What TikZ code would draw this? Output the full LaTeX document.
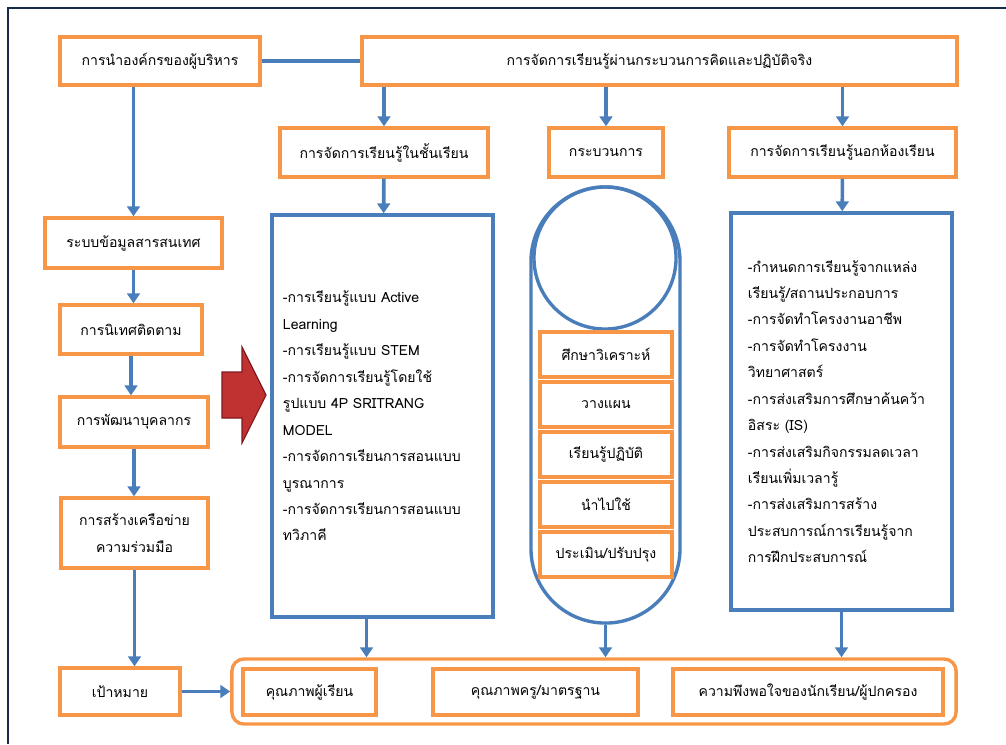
\documentclass[tikz,border=0pt]{standalone}
\usepackage{fontspec}
\setmainfont[Script=Thai]{Loma}
\usetikzlibrary{arrows.meta}
\definecolor{boxorange}{RGB}{247,150,70}
\definecolor{flowblue}{RGB}{74,126,187}
\definecolor{framenavy}{RGB}{23,43,72}
\definecolor{arrowred}{RGB}{192,50,50}
\definecolor{arrowdark}{RGB}{130,25,30}
\tikzset{
  obox/.style={draw=boxorange, line width=2.4pt, fill=white, inner sep=2pt, align=center},
  bbox/.style={draw=flowblue, line width=2.4pt, align=left},
  link/.style={draw=flowblue, line width=2.6pt},
  flow/.style={link, -{Triangle[width=9pt,length=7pt]}}
}
\begin{document}
\begin{tikzpicture}[x=0.025cm, y=-0.025cm, font=\fontsize{10}{18.8}\selectfont]
  \useasboundingbox (0,0) rectangle (1006,744);
  % frame
  \draw[framenavy, line width=2pt] (8,744) -- (8,8) -- (1006,8);
  % top row
  \node[obox, minimum width=5cm, minimum height=1.2cm] (lead) at (160,61) {การนำองค์กรของผู้บริหาร};
  \node[obox, minimum width=14.875cm, minimum height=1.2cm] (banner) at (659.5,61)
    {การจัดการเรียนรู้ผ่านกระบวนการคิดและปฏิบัติจริง};
  \node[obox, minimum width=5.2cm, minimum height=1.225cm] (classhd) at (384,152.5) {การจัดการเรียนรู้ในชั้นเรียน};
  \node[obox, minimum width=2.85cm, minimum height=1.225cm] (prochd) at (606,152.5) {กระบวนการ};
  \node[obox, minimum width=5.675cm, minimum height=1.225cm] (outhd) at (842.5,152.5) {การจัดการเรียนรู้นอกห้องเรียน};
  % left column
  \node[obox, minimum width=4.425cm, minimum height=1.25cm] (info) at (133.5,243) {ระบบข้อมูลสารสนเทศ};
  \node[obox, minimum width=3.55cm, minimum height=1.225cm] (super) at (131,329.5) {การนิเทศติดตาม};
  \node[obox, minimum width=3.7cm, minimum height=1.25cm] (staff) at (134,422) {การพัฒนาบุคลากร};
  \node[obox, minimum width=3.675cm, minimum height=1.75cm] (network) at (134.5,533)
    {การสร้างเครือข่าย\\ความร่วมมือ};
  \node[obox, minimum width=3cm, minimum height=1.175cm] (goal) at (120,691.5) {เป้าหมาย};
  % classroom box
  \node[bbox, minimum width=5.525cm, minimum height=10.05cm, text width=4.975cm, inner xsep=0.275cm]
    (classbox) at (382.5,416)
    {-การเรียนรู้แบบ Active\\Learning\\-การเรียนรู้แบบ STEM\\-การจัดการเรียนรู้โดยใช้\\
     รูปแบบ 4P SRITRANG\\MODEL\\-การจัดการเรียนการสอนแบบ\\บูรณาการ\\
     -การจัดการเรียนการสอนแบบ\\ทวิภาคี};
  % process capsule
  \node[draw=flowblue, line width=2.4pt, minimum width=3.725cm, minimum height=10.9cm,
    rounded corners=1.86cm] (cyl) at (605.5,405) {};
  \node[draw=flowblue, line width=2.4pt, circle, minimum size=3.55cm] (ring) at (605,258) {};
  \foreach \txt [count=\i] in {ศึกษาวิเคราะห์, วางแผน, เรียนรู้ปฏิบัติ, นำไปใช้, ประเมิน/ปรับปรุง}
    \node[obox, minimum width=3.3cm, minimum height=1.125cm] (st\i) at ({606},{354.5+50*(\i-1)}) {\txt};
  % outside classroom box
  \node[bbox, minimum width=5.525cm, minimum height=9.925cm, text width=4.675cm, inner xsep=0.425cm]
    (outbox) at (841.5,411.5)
    {-กำหนดการเรียนรู้จากแหล่ง\\เรียนรู้/สถานประกอบการ\\-การจัดทำโครงงานอาชีพ\\
     -การจัดทำโครงงาน\\วิทยาศาสตร์\\-การส่งเสริมการศึกษาค้นคว้า\\อิสระ (IS)\\
     -การส่งเสริมกิจกรรมลดเวลา\\เรียนเพิ่มเวลารู้\\-การส่งเสริมการสร้าง\\
     ประสบการณ์การเรียนรู้จาก\\การฝึกประสบการณ์};
  % results
  \node[draw=boxorange, line width=2.4pt, rounded corners=0.3cm, minimum width=18.1cm,
    minimum height=1.625cm] (results) at (594,691.5) {};
  \node[obox, minimum width=3.325cm, minimum height=1.15cm] (q1) at (309.5,692) {คุณภาพผู้เรียน};
  \node[obox, minimum width=5.125cm, minimum height=1.15cm] (q2) at (535.5,692) {คุณภาพครู/มาตรฐาน};
  \node[obox, minimum width=6.75cm, minimum height=1.15cm] (q3) at (808,692) {ความพึงพอใจของนักเรียน/ผู้ปกครอง};
  % red block arrow
  \draw[fill=arrowred, draw=arrowdark, line width=0.8pt]
    (222,372) -- (242,372) -- (242,347) -- (266,395) -- (242,443) -- (242,418) -- (222,418) -- cycle;
  % connectors
  \draw[link] (lead) -- (banner);
  \draw[flow] (classhd.north |- banner.south) -- (classhd.north);
  \draw[flow] (prochd.north |- banner.south) -- (prochd.north);
  \draw[flow] (outhd.north |- banner.south) -- (outhd.north);
  \draw[flow] (info.north |- lead.south) -- (info.north);
  \draw[flow] (info.south) -- (info.south |- super.north);
  \draw[flow] (super.south) -- (super.south |- staff.north);
  \draw[flow] (staff.south) -- (staff.south |- network.north);
  \draw[flow] (network.south) -- (network.south |- goal.north);
  \draw[flow] (goal) -- (results);
  \draw[flow] (classhd) -- (classbox);
  \draw[flow] (outhd) -- (outbox);
  \draw[flow] ([xshift=-0.4cm]classbox.south) -- ([xshift=-0.4cm]classbox.south |- results.north);
  \draw[flow] (cyl.south) -- (cyl.south |- results.north);
  \draw[flow] (outbox.south) -- (outbox.south |- results.north);
\end{tikzpicture}
\end{document}
